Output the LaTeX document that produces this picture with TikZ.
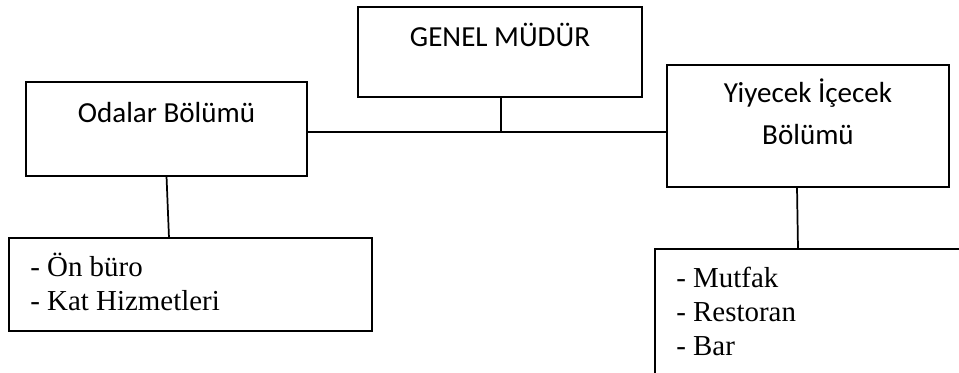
\documentclass[tikz,border=0pt]{standalone}
\usepackage{fontspec}
\setmainfont{Liberation Serif}
\newfontfamily\calib{Carlito}
\usetikzlibrary{fit}
\begin{document}
\begin{tikzpicture}[x=0.75pt,y=-0.75pt,
  box/.style={draw, line width=1.4pt, inner sep=0pt, outer sep=0pt, rectangle},
  conn/.style={line width=1.3pt},
  ttl/.style={font=\calib\fontsize{21.8}{26}\selectfont, inner sep=0pt, anchor=base},
  lst/.style={font=\fontsize{21.7}{26}\selectfont, inner sep=0pt, anchor=base west}]
\useasboundingbox (0,0) rectangle (959,372);
% boxes
\node[box, fit={(358,7) (642,97)}] (genel) {};
\node[box, fit={(26,82) (307,176)}] (odalar) {};
\node[box, fit={(667,65) (949,187)}] (yiyecek) {};
\node[box, fit={(9,238) (372,331)}] (onburo) {};
\node[box, fit={(655,249) (980,395)}] (mutfak) {};
% texts
\node[ttl] (tgenel) at (500,46) {GENEL MÜDÜR};
\node[ttl] (todalar) at (166.5,122) {Odalar Bölümü};
\node[ttl] (tyiy1) at (808,102) {Yiyecek İçecek};
\node[ttl] (tyiy2) at (808,144) {Bölümü};
\node[lst] (l1) at (30,276) {- Ön büro};
\node[lst] (l2) at (30,310) {- Kat Hizmetleri};
\node[lst] (r1) at (676,287) {- Mutfak};
\node[lst] (r2) at (676,321) {- Restoran};
\node[lst] (r3) at (676,355) {- Bar};
% connectors
\coordinate (j) at (501,132);
\draw[conn] (odalar.east |- j) -- (yiyecek.west |- j);
\draw[conn] (genel.south -| j) -- (j);
\draw[conn] (odalar.south) -- (onburo.north -| 169,0);
\draw[conn] (yiyecek.south -| 797,0) -- (mutfak.north -| 798,0);
\end{tikzpicture}
\end{document}
